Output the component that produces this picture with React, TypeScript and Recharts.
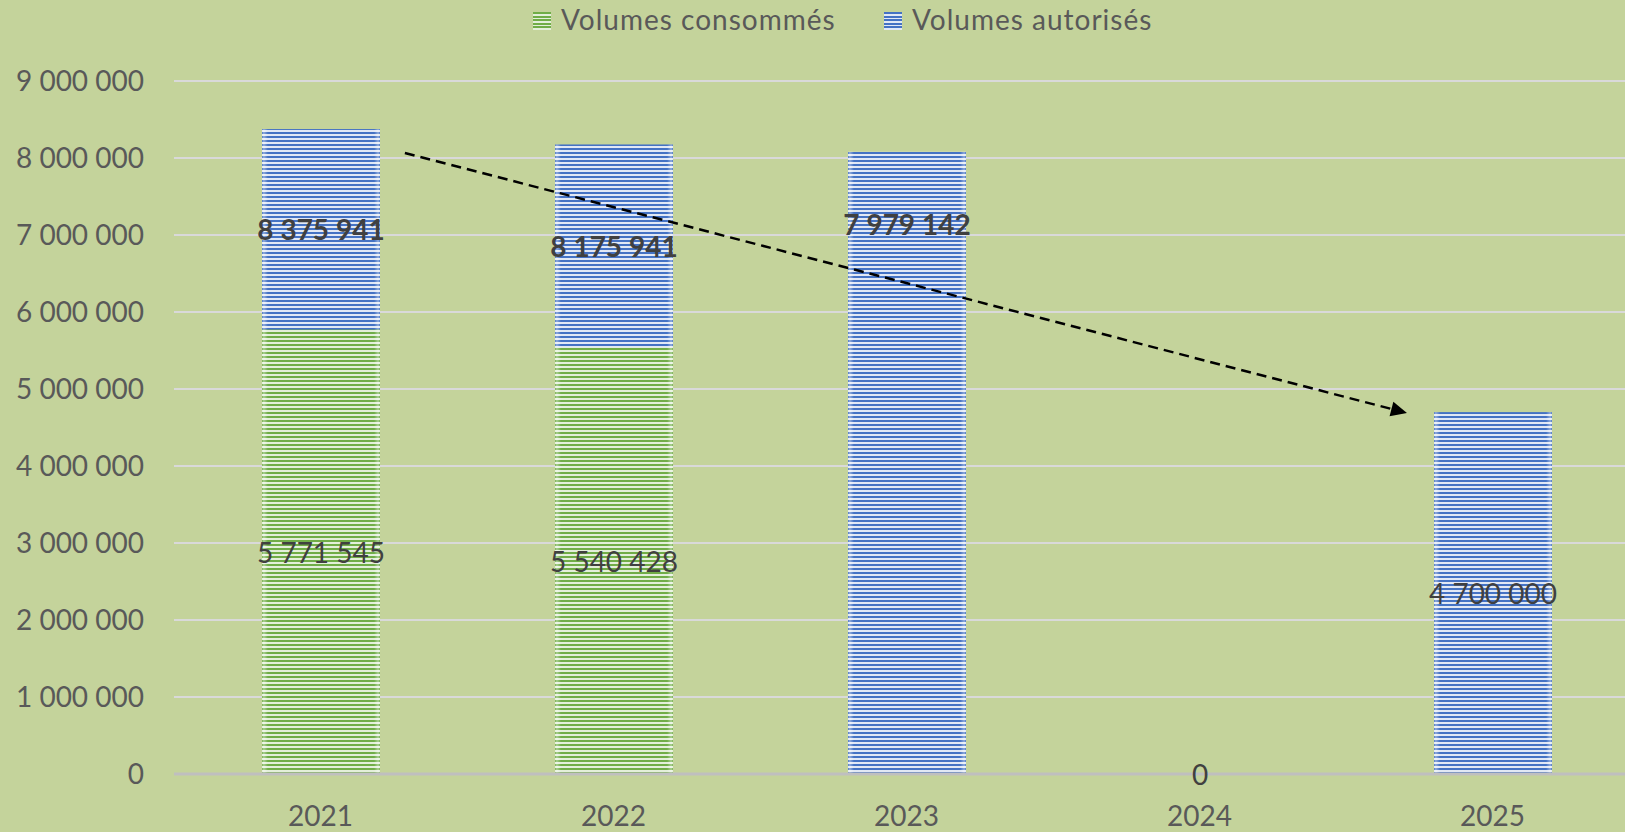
import React from "react";
import {
  BarChart,
  Bar,
  XAxis,
  YAxis,
  CartesianGrid,
  LabelList,
  ReferenceLine,
} from "recharts";

// ---- data ----
const years = ["2021", "2022", "2023", "2024", "2025"];
const consommes: (number | null)[] = [5771545, 5540428, null, null, null];
// bar heights as drawn in the reference
const autorises: (number | null)[] = [8375941, 8175941, 8080000, null, null];
// values printed on the authorised bars
const autorisesLabels: (number | null)[] = [8375941, 8175941, 7979142, null, null];
const previsions: (number | null)[] = [null, null, null, 0, 4700000];
const yTicks = [0, 1000000, 2000000, 3000000, 4000000, 5000000, 6000000, 7000000, 8000000, 9000000];
// trend arrow annotation (value at 2021 and at 2025 of the dashed trend)
const trendYears = ["2021", "2025"];
const trendValues = [8350000, 4400000];

const data = years.map((y, i) => ({
  year: y,
  consommes: consommes[i],
  autorises: autorises[i],
  previsions: previsions[i],
}));

const FONT = "Lato, 'Liberation Sans', sans-serif";
const BG = "#c4d39b";
const TXT = "#595959";
const LBL = "#404040";

const fmt = (v: number) => String(v).replace(/\B(?=(\d{3})+(?!\d))/g, " ");

const StripedBar = (props: any) => {
  const { x, y, width, height, fill } = props;
  if (height == null || height <= 0 || width <= 0) return null;
  return (
    <g>
      <rect x={x} y={y} width={width} height={height} fill={fill} />
      <rect x={x} y={y} width={width} height={height} fill="url(#edgeFade)" />
    </g>
  );
};

const getBox = (p: any) => {
  const vb = p.viewBox && p.viewBox.width != null ? p.viewBox : p;
  return { x: Number(vb.x), y: Number(vb.y), width: Number(vb.width), height: Number(vb.height) };
};

const CenterLabel = (p: any) => {
  if (p.value == null) return null;
  const { x, y, width, height } = getBox(p);
  return (
    <text
      x={x + width / 2}
      y={y + height / 2}
      textAnchor="middle"
      dominantBaseline="central"
      fontFamily={FONT}
      fontSize={28}
      fill={LBL}
    >
      {fmt(Number(p.value))}
    </text>
  );
};

const AuthLabel = (p: any) => {
  if (p.value == null) return null;
  const { x, y, width, height } = getBox(p);
  const c = consommes[p.index];
  const shown = autorisesLabels[p.index];
  let cy: number;
  if (c != null) {
    const bottom = y + height * (1 - c / Number(p.value));
    cy = (y + bottom) / 2;
  } else {
    cy = y + height * 0.116;
  }
  return (
    <text
      x={x + width / 2}
      y={cy}
      textAnchor="middle"
      dominantBaseline="central"
      fontFamily={FONT}
      fontSize={28}
      fontWeight="bold"
      fill={LBL}
    >
      {fmt(Number(shown ?? p.value))}
    </text>
  );
};

const TrendArrow = (p: any) => {
  const { x1, y1, x2, y2 } = p;
  const t0 = 0.072;
  const t1 = 0.927;
  const sx = x1 + (x2 - x1) * t0;
  const sy = y1 + (y2 - y1) * t0;
  const ex = x1 + (x2 - x1) * t1;
  const ey = y1 + (y2 - y1) * t1;
  const ang = Math.atan2(ey - sy, ex - sx);
  const L = 16;
  const W = 7.5;
  const bx = ex - L * Math.cos(ang);
  const by = ey - L * Math.sin(ang);
  const px = -Math.sin(ang);
  const py = Math.cos(ang);
  return (
    <g>
      <line x1={sx} y1={sy} x2={bx} y2={by} stroke="#000" strokeWidth={2.5} strokeDasharray="10 6" />
      <polygon
        points={`${ex},${ey} ${bx + px * W},${by + py * W} ${bx - px * W},${by - py * W}`}
        fill="#000"
      />
    </g>
  );
};

const legendItems = [
  { label: "Volumes consommés", dark: "#70ad47", light: "#e3efda", left: 533 },
  { label: "Volumes autorisés", dark: "#4472c4", light: "#e1e8f5", left: 884 },
];

export default function App() {
  return (
    <div
      style={{
        position: "fixed",
        top: 0,
        left: 0,
        width: 1625,
        height: 832,
        overflow: "hidden",
        background: BG,
      }}
    >
      <BarChart
        width={1639}
        height={832}
        data={data}
        margin={{ top: 81, right: 0, left: 0, bottom: 0 }}
        barSize={118}
        barGap={-118}
        style={{ background: BG }}
      >
        <defs>
          <pattern id="stripeBlue" patternUnits="userSpaceOnUse" width={8} height={4}>
            <rect x={0} y={0} width={8} height={4} fill="#e1e8f5" />
            <rect x={0} y={0} width={8} height={2} fill="#4472c4" />
          </pattern>
          <pattern id="stripeGreen" patternUnits="userSpaceOnUse" width={8} height={4}>
            <rect x={0} y={0} width={8} height={4} fill="#e3efda" />
            <rect x={0} y={0} width={8} height={2} fill="#70ad47" />
          </pattern>
          <linearGradient id="edgeFade" x1="0" y1="0" x2="1" y2="0">
            <stop offset="0" stopColor="#ffffff" stopOpacity={0.05} />
            <stop offset="0.015" stopColor="#ffffff" stopOpacity={0.4} />
            <stop offset="0.05" stopColor="#ffffff" stopOpacity={0} />
            <stop offset="0.95" stopColor="#ffffff" stopOpacity={0} />
            <stop offset="0.985" stopColor="#ffffff" stopOpacity={0.4} />
            <stop offset="1" stopColor="#ffffff" stopOpacity={0.05} />
          </linearGradient>
        </defs>
        <CartesianGrid vertical={false} stroke="#d9d9d9" strokeWidth={2} />
        <XAxis
          dataKey="year"
          height={58}
          axisLine={{ stroke: "#bfbfbf", strokeWidth: 3 }}
          tickLine={false}
          tickSize={0}
          tickMargin={32}
          tick={{ fontFamily: FONT, fontSize: 28, fill: TXT }}
        />
        <YAxis
          width={174}
          domain={[0, 9000000]}
          ticks={yTicks}
          axisLine={false}
          tickLine={false}
          tickSize={0}
          tickMargin={30}
          tickFormatter={(v: number) => fmt(v)}
          tick={{ fontFamily: FONT, fontSize: 28, fill: TXT }}
        />
        <Bar
          dataKey="autorises"
          fill="url(#stripeBlue)"
          shape={StripedBar}
          isAnimationActive={false}
        >
          <LabelList dataKey="autorises" content={AuthLabel} />
        </Bar>
        <Bar
          dataKey="previsions"
          fill="url(#stripeBlue)"
          shape={StripedBar}
          isAnimationActive={false}
        >
          <LabelList dataKey="previsions" content={CenterLabel} />
        </Bar>
        <Bar
          dataKey="consommes"
          fill="url(#stripeGreen)"
          shape={StripedBar}
          isAnimationActive={false}
        >
          <LabelList dataKey="consommes" content={CenterLabel} />
        </Bar>
        <ReferenceLine
          segment={[
            { x: trendYears[0], y: trendValues[0] },
            { x: trendYears[1], y: trendValues[1] },
          ]}
          shape={TrendArrow}
          ifOverflow="visible"
        />
      </BarChart>
      {legendItems.map((it) => (
        <React.Fragment key={it.label}>
          <span
            style={{
              position: "absolute",
              left: it.left,
              top: 12,
              width: 18,
              height: 18,
              background: `repeating-linear-gradient(to bottom, ${it.dark} 0px, ${it.dark} 2px, ${it.light} 2px, ${it.light} 3.6px)`,
            }}
          />
          <div
            style={{
              position: "absolute",
              left: it.left + 28,
              top: 1,
              fontFamily: FONT,
              fontSize: 28,
              letterSpacing: 1,
              color: TXT,
              whiteSpace: "nowrap",
              lineHeight: "36px",
            }}
          >
            {it.label}
          </div>
        </React.Fragment>
      ))}
    </div>
  );
}
